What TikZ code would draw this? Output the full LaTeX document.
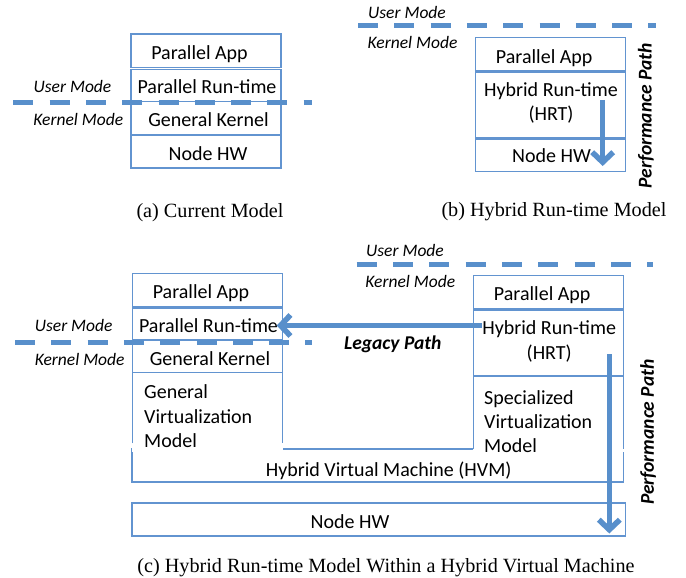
\documentclass[tikz,border=0pt]{standalone}
\usepackage{fontspec}
\setmainfont{Carlito}
\newfontfamily\capfont{Liberation Serif}
\usetikzlibrary{arrows.meta}
\definecolor{boxblue}{RGB}{98,148,208}
\definecolor{pathblue}{RGB}{88,143,203}
\tikzset{
  layerbox/.style={draw=boxblue, line width=1.1pt, inner sep=0pt},
  boxtext/.style={font=\fontsize{20}{24.5}\selectfont, inner sep=0pt, text height=12.9pt, text depth=0pt},
  multitext/.style={font=\fontsize{20}{24.2}\selectfont, inner sep=0pt, align=left, anchor=base west},
  modetext/.style={font=\fontsize{17.5}{20}\selectfont\itshape, inner sep=0pt, text height=11.3pt, text depth=0pt},
  pathtext/.style={font=\fontsize{19.5}{22}\selectfont\bfseries\itshape, inner sep=0pt, text height=12.6pt, text depth=0pt},
  captext/.style={font=\fontsize{20.2}{24}\selectfont\capfont, inner sep=0pt, anchor=base},
  modeline/.style={draw=pathblue, line width=5.5pt, dash pattern=on 20pt off 16.3pt},
  bigarrow/.style={draw=pathblue, line width=5.5pt, -{Straight Barb[length=10pt,width=21pt]}},
}
\begin{document}
\begin{tikzpicture}[x=1pt,y=-1pt]
\useasboundingbox (0,0) rectangle (686,578);

% ---------------- (a) ----------------
\node[layerbox, minimum width=150pt, minimum height=33.5pt] (aPA) at (206,50.75) {};
\node[layerbox, minimum width=150pt, minimum height=32pt] (aPRT) at (206,85.5) {};
\node[layerbox, minimum width=150pt, minimum height=33.5pt] (aGK) at (206,118.25) {};
\node[layerbox, minimum width=150pt, minimum height=33pt] (aNH) at (206,151.5) {};
\node[boxtext] (aPAt) at (199.5,53) {Parallel App};
\node[boxtext] (aPRTt) at (207,86.7) {Parallel Run-time};
\node[boxtext] (aGKt) at (208.5,119.7) {General Kernel};
\node[boxtext] (aNHt) at (208,154) {Node HW};
\coordinate (aL1) at (13.3,102.5);
\coordinate (aL2) at (312,102.5);
\draw[modeline] (aL1) -- (aL2);
\node[modetext] (aUM) at (72.5,87) {User Mode};
\node[modetext] (aKM) at (78.3,120.3) {Kernel Mode};
\node[captext] (capA) at (210,217.3) {(a) Current Model};

% ---------------- (b) ----------------
\node[layerbox, minimum width=150pt, minimum height=33.4pt] (bPA) at (550.7,54) {};
\node[layerbox, minimum width=150pt, minimum height=65.7pt] (bHRT) at (550.7,104.85) {};
\node[layerbox, minimum width=150pt, minimum height=32.7pt] (bNH) at (550.7,155.35) {};
\node[boxtext] (bPAt) at (544.2,56.7) {Parallel App};
\node[boxtext] (bHRTt1) at (551,90) {Hybrid Run-time};
\node[boxtext] (bHRTt2) at (551,114.5) {(HRT)};
\node[boxtext] (bNHt) at (551.5,156) {Node HW};
\coordinate (bL1) at (358,25.7);
\coordinate (bL2) at (656,25.7);
\draw[modeline] (bL1) -- (bL2);
\node[modetext] (bUM) at (407,12.8) {User Mode};
\node[modetext] (bKM) at (412.5,43) {Kernel Mode};
\coordinate (bA1) at (602.7,100);
\coordinate (bA2) at (602.7,166);
\draw[bigarrow] (bA1) -- (bA2);
\node[pathtext, rotate=90] (bPP) at (645.3,115.8) {Performance Path};
\node[captext] (capB) at (554,216.7) {(b) Hybrid Run-time Model};

% ---------------- (c) ----------------
% HVM box
\node[layerbox, minimum width=491.3pt, minimum height=33pt] (cHVM) at (377.65,465.5) {};
% left column
\fill[white] (131.5,372.7) rectangle (283.1,452);
\draw[draw=boxblue, line width=1.1pt] (132.3,443.3) -- (132.3,372.7) -- (282.3,372.7) -- (282.3,443.3);
\node[layerbox, minimum width=150pt, minimum height=33.4pt] (cPA) at (207.3,290) {};
\node[layerbox, minimum width=150pt, minimum height=32pt] (cPRT) at (207.3,324) {};
\node[layerbox, minimum width=150pt, minimum height=32.7pt] (cGK) at (207.3,356.35) {};
% right column
\fill[white] (472.5,376) rectangle (624.1,452);
\draw[draw=boxblue, line width=1.1pt] (473.3,449) -- (473.3,376) -- (623.3,376) -- (623.3,449);
\node[layerbox, minimum width=150pt, minimum height=32.6pt] (cPA2) at (548.3,292) {};
\node[layerbox, minimum width=150pt, minimum height=66pt] (cHRT) at (548.3,343) {};
% node hw
\node[layerbox, minimum width=493.7pt, minimum height=33pt] (cNH) at (378.85,519.5) {};

\node[boxtext] (cPAt) at (201,291.7) {Parallel App};
\node[boxtext] (cPRTt) at (208.5,326.3) {Parallel Run-time};
\node[boxtext] (cGKt) at (210,358.8) {General Kernel};
\node[multitext] (cGVMt) at (144,447.2) {General\\Virtualization\\Model};
\node[boxtext] (cPA2t) at (542.2,294) {Parallel App};
\node[boxtext] (cHRTt1) at (549.2,328.3) {Hybrid Run-time};
\node[boxtext] (cHRTt2) at (549.2,353) {(HRT)};
\node[multitext] (cSVMt) at (484,452.4) {Specialized\\Virtualization\\Model};
\node[boxtext, anchor=east] (cHVMt) at (511.7,469.7) {Hybrid Virtual Machine (HVM)};
\node[boxtext] (cNHt) at (350,521.7) {Node HW};

\coordinate (cL1) at (15,342.7);
\coordinate (cL2) at (312,342.7);
\draw[modeline] (cL1) -- (cL2);
\node[modetext] (cUM) at (73.7,325.5) {User Mode};
\node[modetext] (cKM) at (79.7,359.5) {Kernel Mode};
\coordinate (cR1) at (356.7,264.3);
\coordinate (cR2) at (653,264.3);
\draw[modeline] (cR1) -- (cR2);
\node[modetext] (cUM2) at (405,250.8) {User Mode};
\node[modetext] (cKM2) at (410.3,281.7) {Kernel Mode};

\coordinate (legS) at (481.7,325.5);
\coordinate (legE) at (276.7,325.5);
\draw[bigarrow] (legS) -- (legE);
\node[pathtext, anchor=east] (cLP) at (441.7,342.7) {Legacy Path};

\coordinate (cA1) at (609.3,354);
\coordinate (cA2) at (609.3,533.5);
\draw[bigarrow] (cA1) -- (cA2);
\node[pathtext, rotate=90] (cPP) at (647.5,432.2) {Performance Path};

\node[captext] (capC) at (386,572.5) {(c) Hybrid Run-time Model Within a Hybrid Virtual Machine};
\end{tikzpicture}
\end{document}
